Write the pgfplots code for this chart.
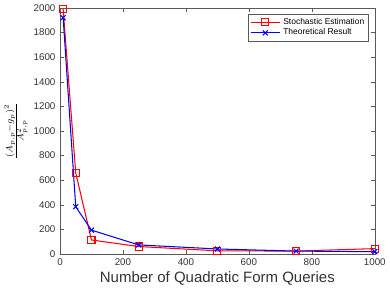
\documentclass[border=0pt]{standalone}
\usepackage{pgfplots}
\pgfplotsset{compat=1.18}
\usepackage{fontspec}
\setmainfont{Liberation Sans}
\begin{document}
\begin{tikzpicture}
\begin{axis}[
  scale only axis,
  width=241.5pt, height=189pt,
  xmin=0, xmax=1000, ymin=0, ymax=2000,
  xtick={0,200,...,1000}, ytick={0,200,...,2000},
  axis line style={gray!70!black},
  tick style={gray!70!black, major tick length=3pt},
  tick align=inside,
  /pgf/number format/assume math mode=true,
  /pgf/number format/1000 sep={},
  ticklabel style={font=\fontsize{7.5}{8}\selectfont, text=black!80},
  xlabel={Number of Quadratic Form Queries},
  xlabel style={font=\fontsize{11.5}{13}\selectfont, text=black!80, yshift=2pt},
  ylabel={$\frac{(A_{p,p}-g_p)^2}{A_{p,p}^2}$},
  ylabel style={font=\fontsize{9.5}{10}\selectfont, yshift=-2pt},
  legend style={at={(0.98,0.975)}, anchor=north east, font=\fontsize{6.5}{7.5}\selectfont, draw=gray!70!black, inner sep=1pt, row sep=-2pt},
  legend image code/.code={\draw[mark repeat=2,mark phase=2] plot coordinates {(0cm,0cm) (0.4cm,0cm) (0.8cm,0cm)};},
  legend cell align=left,
]
\addplot[red, thick, mark=square, mark size=2.7pt, mark options={solid}] coordinates {
(10,1990) (50,660) (100,115) (250,62) (500,27) (750,25) (1000,45)};
\addlegendentry{Stochastic Estimation}
\addplot[blue, thick, mark=x, mark size=2.7pt] coordinates {
(10,1920) (50,385) (100,195) (250,75) (500,42) (750,25) (1000,20)};
\addlegendentry{Theoretical Result}
\end{axis}
\end{tikzpicture}
\end{document}
